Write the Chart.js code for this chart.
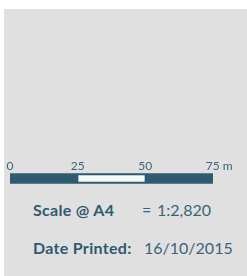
<!DOCTYPE html>
<html>
<head>
<meta charset="utf-8">
<script src="https://cdn.jsdelivr.net/npm/chart.js@4/dist/chart.umd.min.js"></script>
<style>
  html, body { margin: 0; padding: 0; background: #ffffff; }
  #panel {
    position: absolute; left: 4px; top: 9px; width: 243px; height: 267px;
    background: #e0e0e0; overflow: hidden;
  }
  #wrap { position: absolute; left: -4px; top: 141px; width: 247px; height: 40px; }
  .row {
    position: absolute; left: 29px; font-family: Lato, sans-serif; font-size: 16px;
    color: #3a6478; white-space: nowrap; line-height: 18px;
  }
  .row b { color: #2e5a6e; position: absolute; left: 0; letter-spacing: 0.3px; }
  .row span { position: absolute; }
</style>
</head>
<body>
<div id="panel">
  <div id="wrap"><canvas id="scalebar"></canvas></div>
  <div class="row" id="row1" style="top:192px"><b id="scaleLabel"></b><span id="eq" style="left:109px">=</span><span id="scaleValue" style="left:124px"></span></div>
  <div class="row" id="row2" style="top:230px"><b id="dateLabel"></b><span id="dateValue" style="left:111px"></span></div>
</div>
<script>
// scale bar values
var scaleTicks = [0, 25, 50, 75];
var scaleUnit = 'm';
var darkSegment = [0, 75];
var lightSegment = [25, 50];

// text rows
var scaleText = 'Scale @ A4';
var scaleRatio = '1:2,820';
var dateText = 'Date Printed:';
var datePrinted = '16/10/2015';

var dark = '#2e5b70';

document.getElementById('scaleLabel').textContent = scaleText;
document.getElementById('scaleValue').textContent = scaleRatio;
document.getElementById('dateLabel').textContent = dateText;
document.getElementById('dateValue').textContent = datePrinted;

var config = {
    type: 'bar',
    data: {
        labels: [''],
        datasets: [
            {
                data: [lightSegment],
                backgroundColor: '#f7f7f7',
                borderColor: dark,
                borderWidth: 1,
                borderSkipped: false,
                barThickness: 8
            },
            {
                data: [darkSegment],
                backgroundColor: dark,
                borderWidth: 0,
                barThickness: 10
            }
        ]
    },
    options: {
        indexAxis: 'y',
        responsive: true,
        maintainAspectRatio: false,
        animation: false,
        grouped: false,
        layout: {
            padding: { left: 10, right: 34, top: 5, bottom: 6 }
        },
        plugins: {
            legend: { display: false },
            tooltip: { enabled: false }
        },
        scales: {
            x: {
                type: 'linear',
                position: 'top',
                min: scaleTicks[0],
                max: scaleTicks[scaleTicks.length - 1],
                border: { display: false },
                grid: { display: false, drawTicks: false },
                afterBuildTicks: function(scale) {
                    scale.ticks = scaleTicks.map(function(v) { return { value: v }; });
                },
                afterFit: function(scale) { scale.height = 18; },
                ticks: {
                    padding: 0,
                    maxRotation: 0,
                    autoSkip: false,
                    color: '#3a6478',
                    font: { family: 'Lato', size: 12 },
                    callback: function(v) {
                        if (v === scaleTicks[scaleTicks.length - 1]) {
                            return '\u00a0\u00a0\u00a0\u00a0' + v + ' ' + scaleUnit;
                        }
                        return String(v);
                    }
                }
            },
            y: { display: false }
        }
    }
};

var ctx = document.getElementById('scalebar').getContext('2d');
var scaleChart = new Chart(ctx, config);
</script>
</body>
</html>
